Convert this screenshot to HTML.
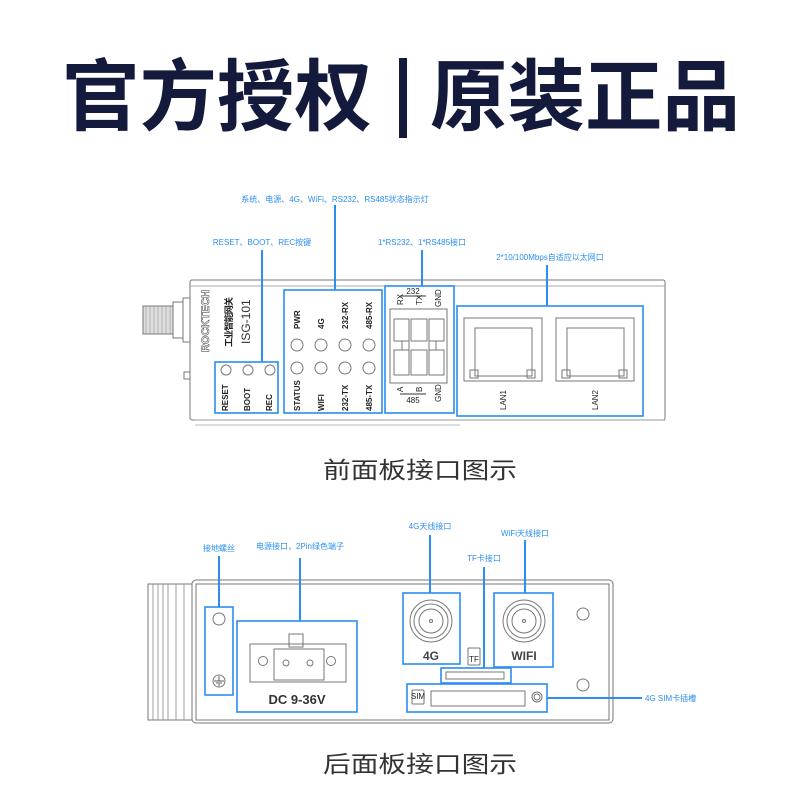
<!DOCTYPE html>
<html><head><meta charset="utf-8"><style>
html,body{margin:0;padding:0;background:#fff;width:800px;height:800px;overflow:hidden}
svg{display:block}
.t{font-family:"Liberation Sans","Noto Sans CJK SC",sans-serif}
.lb{font-family:"Liberation Sans","Noto Sans CJK SC",sans-serif;font-size:8px;fill:#2b8ef2}
.g{fill:none;stroke:#777;stroke-width:1}
.b{fill:none;stroke:#2b8ef2;stroke-width:1.6}
.bl{stroke:#2b8ef2;stroke-width:2}
.sm{font-family:"Liberation Sans","Noto Sans CJK SC",sans-serif;font-size:8px;fill:#222}
</style></head><body>
<svg width="800" height="800" viewBox="0 0 800 800">
<!-- Title -->
<text class="t" x="62" y="124" font-size="78" font-weight="bold" fill="#141a3c" textLength="310" lengthAdjust="spacingAndGlyphs">官方授权</text>
<rect x="399" y="58" width="8" height="80" fill="#141a3c"/>
<text class="t" x="430" y="124" font-size="78" font-weight="bold" fill="#141a3c" textLength="310" lengthAdjust="spacingAndGlyphs">原装正品</text>

<!-- FRONT PANEL -->
<rect x="190" y="280" width="475" height="140" class="g" rx="2"/>
<line x1="190" y1="286" x2="665" y2="286" stroke="#aaa"/>
<line x1="195" y1="420" x2="665" y2="420" stroke="#999"/>
<line x1="195" y1="425" x2="460" y2="425" stroke="#bbb"/>
<!-- antenna -->
<rect x="143" y="306" width="30" height="28" fill="#ddd" stroke="#777"/>
<g stroke="#999" stroke-width="0.6"><line x1="146" y1="306" x2="146" y2="334"/><line x1="150" y1="306" x2="150" y2="334"/><line x1="154" y1="306" x2="154" y2="334"/><line x1="158" y1="306" x2="158" y2="334"/><line x1="162" y1="306" x2="162" y2="334"/><line x1="166" y1="306" x2="166" y2="334"/><line x1="170" y1="306" x2="170" y2="334"/></g>
<rect x="173" y="302" width="10" height="36" class="g" fill="#fff"/>
<rect x="183" y="298" width="7" height="44" class="g" fill="#fff"/>
<rect x="184" y="372" width="6" height="7" class="g"/>
<text class="t" transform="translate(209,352) rotate(-90)" font-size="11" font-weight="bold" fill="none" stroke="#555" stroke-width="0.6" textLength="62" lengthAdjust="spacingAndGlyphs">ROCKTECH</text>
<text class="t" transform="translate(232,347) rotate(-90)" font-size="9" font-weight="bold" fill="#222" textLength="50">工业智能网关</text>
<text class="t" transform="translate(250,344) rotate(-90)" font-size="12" fill="#333">ISG-101</text>
<!-- reset box -->
<rect x="215" y="362" width="63" height="51" class="b"/>
<circle cx="226" cy="370" r="5" class="g"/><circle cx="248" cy="370" r="5" class="g"/><circle cx="270" cy="370" r="5" class="g"/>
<text class="sm" transform="translate(228,411) rotate(-90)" font-weight="bold">RESET</text>
<text class="sm" transform="translate(250,411) rotate(-90)" font-weight="bold">BOOT</text>
<text class="sm" transform="translate(272,411) rotate(-90)" font-weight="bold">REC</text>
<line x1="262" y1="250" x2="262" y2="362" class="bl"/>
<text class="lb" x="262" y="245" text-anchor="middle">RESET、BOOT、REC按键</text>
<!-- indicators -->
<rect x="284" y="290" width="98" height="123" class="b"/>
<g class="sm" font-weight="bold">
<text transform="translate(300,329) rotate(-90)">PWR</text>
<text transform="translate(324,329) rotate(-90)">4G</text>
<text transform="translate(348,329) rotate(-90)">232-RX</text>
<text transform="translate(372,329) rotate(-90)">485-RX</text>
<text transform="translate(300,411) rotate(-90)">STATUS</text>
<text transform="translate(324,411) rotate(-90)">WIFI</text>
<text transform="translate(348,411) rotate(-90)">232-TX</text>
<text transform="translate(372,411) rotate(-90)">485-TX</text>
</g>
<g class="g"><circle cx="297" cy="345" r="6"/><circle cx="321" cy="345" r="6"/><circle cx="345" cy="345" r="6"/><circle cx="369" cy="345" r="6"/>
<circle cx="297" cy="368" r="6"/><circle cx="321" cy="368" r="6"/><circle cx="345" cy="368" r="6"/><circle cx="369" cy="368" r="6"/></g>
<line x1="335" y1="205" x2="335" y2="290" class="bl"/>
<text class="lb" x="335" y="202" text-anchor="middle">系统、电源、4G、WiFi、RS232、RS485状态指示灯</text>
<!-- RS box -->
<rect x="385" y="286" width="69" height="127" class="b"/>
<text class="sm" x="413" y="294" text-anchor="middle" font-size="7">232</text>
<line x1="400" y1="296" x2="426" y2="296" stroke="#333"/>
<text class="sm" font-size="6" transform="translate(403,305) rotate(-90)">RX</text>
<text class="sm" font-size="6" transform="translate(422,305) rotate(-90)">TX</text>
<text class="sm" font-size="6" transform="translate(441,307) rotate(-90)">GND</text>
<rect x="390" y="309" width="57" height="74" class="g"/>
<g class="g"><rect x="394" y="319" width="15" height="22"/><rect x="411" y="319" width="16" height="22"/><rect x="429" y="319" width="15" height="22"/>
<rect x="394" y="350" width="15" height="25"/><rect x="411" y="350" width="16" height="25"/><rect x="429" y="350" width="15" height="25"/>
<rect x="402" y="341" width="7" height="9"/><rect x="429" y="341" width="7" height="9"/></g>
<text class="sm" font-size="6" transform="translate(403,392) rotate(-90)">A</text>
<text class="sm" font-size="6" transform="translate(422,392) rotate(-90)">B</text>
<line x1="400" y1="394" x2="426" y2="394" stroke="#333"/>
<text class="sm" x="413" y="403" text-anchor="middle" font-size="7">485</text>
<text class="sm" font-size="6" transform="translate(441,402) rotate(-90)">GND</text>
<line x1="422" y1="250" x2="422" y2="286" class="bl"/>
<text class="lb" x="422" y="245" text-anchor="middle">1*RS232、1*RS485接口</text>
<!-- LAN -->
<rect x="457" y="306" width="186" height="110" class="b"/>
<rect x="464" y="318" width="78" height="63" class="g"/><rect x="475" y="328" width="57" height="48" class="g"/>
<rect x="470" y="370" width="8" height="8" class="g"/><rect x="527" y="370" width="8" height="8" class="g"/>
<rect x="556" y="318" width="78" height="63" class="g"/><rect x="567" y="328" width="57" height="48" class="g"/>
<rect x="562" y="370" width="8" height="8" class="g"/><rect x="619" y="370" width="8" height="8" class="g"/>
<text class="sm" font-size="7" transform="translate(506,410) rotate(-90)">LAN1</text>
<text class="sm" font-size="7" transform="translate(598,410) rotate(-90)">LAN2</text>
<line x1="547" y1="265" x2="547" y2="306" class="bl"/>
<text class="lb" x="550" y="260" text-anchor="middle">2*10/100Mbps自适应以太网口</text>

<text class="t" x="323" y="478" font-size="23" fill="#333" textLength="194" lengthAdjust="spacingAndGlyphs">前面板接口图示</text>

<!-- BACK PANEL -->
<rect x="148" y="584" width="44" height="136" class="g"/>
<g stroke="#888" stroke-width="0.8"><line x1="153" y1="584" x2="153" y2="720"/><line x1="158" y1="584" x2="158" y2="720"/><line x1="163" y1="584" x2="163" y2="720"/><line x1="168" y1="584" x2="168" y2="720"/><line x1="176" y1="584" x2="176" y2="720"/><line x1="184" y1="584" x2="184" y2="720"/></g>
<rect x="192" y="580" width="421" height="143" class="g" rx="4"/>
<rect x="196" y="584" width="413" height="136" class="g"/>
<!-- ground -->
<rect x="205" y="607" width="28" height="88" class="b"/>
<circle cx="219" cy="619" r="6" class="g"/>
<circle cx="219" cy="681" r="6" class="g"/>
<g stroke="#333" stroke-width="0.8"><line x1="219" y1="676" x2="219" y2="681"/><line x1="214" y1="681" x2="224" y2="681"/><line x1="216" y1="683" x2="222" y2="683"/><line x1="218" y1="685" x2="220" y2="685"/></g>
<line x1="219" y1="556" x2="219" y2="607" class="bl"/>
<text class="lb" x="219" y="551" text-anchor="middle">接地螺丝</text>
<!-- power -->
<rect x="237" y="621" width="120" height="91" class="b"/>
<rect x="250" y="644" width="96" height="38" class="g"/>
<rect x="274" y="649" width="50" height="31" class="g"/>
<rect x="289" y="634" width="14" height="13" class="g"/>
<circle cx="263" cy="661" r="4.5" class="g"/><circle cx="331" cy="661" r="4.5" class="g"/>
<circle cx="286" cy="663" r="3" class="g"/><circle cx="310" cy="663" r="3" class="g"/>
<text class="t" x="297" y="704" text-anchor="middle" font-size="13" font-weight="bold" fill="#333">DC  9-36V</text>
<line x1="300" y1="558" x2="300" y2="621" class="bl"/>
<text class="lb" x="300" y="549" text-anchor="middle">电源接口，2Pin绿色端子</text>
<!-- 4G -->
<rect x="403" y="593" width="57" height="71" class="b"/>
<circle cx="431" cy="621" r="21" class="g"/><circle cx="431" cy="621" r="17" class="g"/><circle cx="431" cy="621" r="12" class="g"/><circle cx="431" cy="621" r="1.5" class="g"/>
<text class="t" x="431" y="660" text-anchor="middle" font-size="12" font-weight="bold" fill="#444">4G</text>
<line x1="430" y1="535" x2="430" y2="593" class="bl"/>
<text class="lb" x="430" y="529" text-anchor="middle">4G天线接口</text>
<!-- TF icon -->
<rect x="468" y="648" width="12" height="17" class="g" rx="1"/>
<text class="sm" x="474" y="662" font-size="4" text-anchor="middle">TF</text>
<!-- WiFi -->
<rect x="494" y="593" width="59" height="74" class="b"/>
<circle cx="524" cy="621" r="21" class="g"/><circle cx="524" cy="621" r="17" class="g"/><circle cx="524" cy="621" r="12" class="g"/><circle cx="524" cy="621" r="1.5" class="g"/>
<text class="t" x="524" y="660" text-anchor="middle" font-size="12" font-weight="bold" fill="#444">WIFI</text>
<line x1="525" y1="540" x2="525" y2="593" class="bl"/>
<text class="lb" x="525" y="536" text-anchor="middle">WiFi天线接口</text>
<!-- TF slot -->
<rect x="441" y="668" width="70" height="15" class="b"/>
<rect x="446" y="672" width="58" height="7" class="g"/>
<line x1="484" y1="567" x2="484" y2="668" class="bl"/>
<text class="lb" x="484" y="561" text-anchor="middle">TF卡接口</text>
<!-- SIM -->
<rect x="407" y="684" width="140" height="28" class="b"/>
<rect x="412" y="690" width="12" height="14" class="g" rx="1"/>
<text class="sm" x="418" y="699" font-size="4" text-anchor="middle">SIM</text>
<rect x="431" y="691" width="94" height="15" class="g"/>
<circle cx="537" cy="697" r="5" class="g"/><circle cx="537" cy="697" r="3" class="g"/>
<line x1="547" y1="698" x2="642" y2="698" class="bl"/>
<text class="lb" x="645" y="701">4G SIM卡插槽</text>
<circle cx="583" cy="614" r="6" class="g"/><circle cx="583" cy="685" r="6" class="g"/>

<text class="t" x="323" y="772" font-size="23" fill="#333" textLength="194" lengthAdjust="spacingAndGlyphs">后面板接口图示</text>
</svg>
</body></html>
